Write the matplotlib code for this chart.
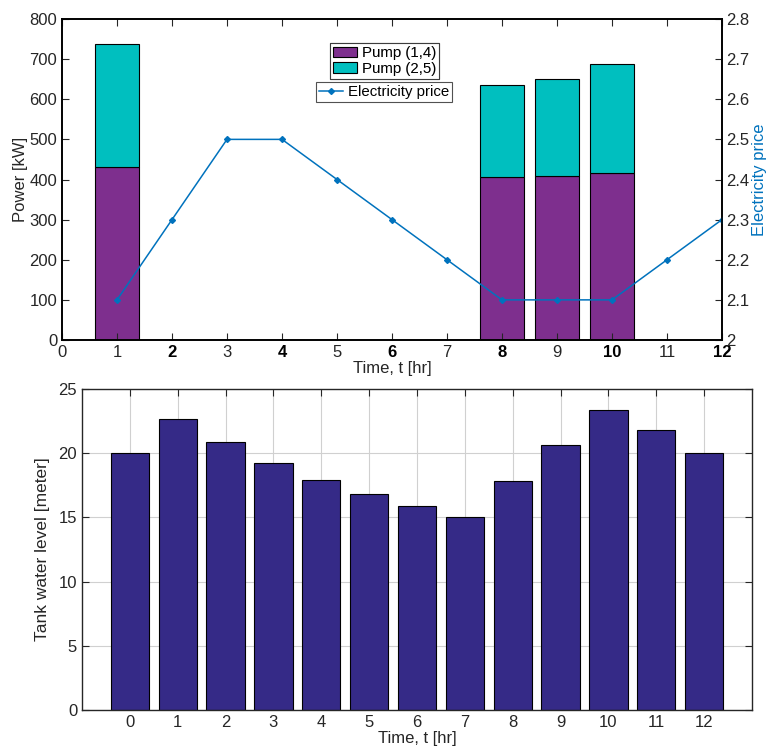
import matplotlib
matplotlib.use("Agg")
import matplotlib.pyplot as plt
import numpy as np

plt.rcParams['font.family'] = ['Liberation Sans', 'DejaVu Sans']

hours = list(range(1, 13))
pump14 = [430, 0, 0, 0, 0, 0, 0, 407, 408, 415, 0, 0]
pump25 = [308, 0, 0, 0, 0, 0, 0, 229, 243, 272, 0, 0]
price = [2.1, 2.3, 2.5, 2.5, 2.4, 2.3, 2.2, 2.1, 2.1, 2.1, 2.2, 2.3]

tank_t = list(range(0, 13))
tank_level = [20.0, 22.7, 20.9, 19.25, 17.95, 16.8, 15.9, 15.0, 17.85, 20.65, 23.4, 21.8, 20.0]

purple = '#7E2F8E'
teal = '#00BFBF'
blue = '#0072BD'
navy = '#352A87'

fig = plt.figure(figsize=(7.66, 7.49), dpi=100)
W, H = 766, 749

# top axes
ax1 = fig.add_axes([62 / W, 1 - 340 / H, (722 - 62) / W, (340 - 19) / H])
b1 = ax1.bar(hours, pump14, width=0.8, color=purple, edgecolor='black', linewidth=0.8, label='Pump (1,4)')
b2 = ax1.bar(hours, pump25, width=0.8, bottom=pump14, color=teal, edgecolor='black', linewidth=0.8, label='Pump (2,5)')
ax1.set_xlim(0, 12)
ax1.set_ylim(0, 800)
ax1.set_xticks(range(0, 13))
ax1.set_yticks(range(0, 801, 100))
ax1.set_ylabel('Power [kW]', fontsize=12, color='#262626', labelpad=1)
ax1.set_xlabel('Time, t [hr]', fontsize=12, color='#262626', labelpad=1)
ax1.tick_params(direction='in', top=True, labelsize=12, colors='#262626', length=5)
for lab, v in zip(ax1.get_xticklabels(), range(0, 13)):
    if v % 2 == 0 and v > 0:
        lab.set_fontweight('bold')
        lab.set_color('black')

ax2 = ax1.twinx()
ln, = ax2.plot(hours, price, color=blue, marker='D', markersize=3, linewidth=1.1, label='Electricity price')
ax2.set_ylim(2.0, 2.8)
ax2.set_yticks(np.arange(2.0, 2.81, 0.1))
ax2.set_yticklabels(['2', '2.1', '2.2', '2.3', '2.4', '2.5', '2.6', '2.7', '2.8'])
ax2.tick_params(direction='in', labelsize=12, colors='#262626', length=5, pad=3)
ax2.set_ylabel('Electricity price', fontsize=12, color=blue, labelpad=2)
for ax in (ax1, ax2):
    for s in ax.spines.values():
        s.set_linewidth(1.2)

leg1 = ax1.legend(handles=[b1, b2], loc='upper left', bbox_to_anchor=(268 / 660, (340 - 43) / 321),
                  fontsize=10.8, frameon=True, fancybox=False, edgecolor='#262626',
                  borderpad=0.2, labelspacing=0.1, handlelength=1.6, handletextpad=0.3,
                  borderaxespad=0)
leg1.get_frame().set_linewidth(0.8)
ax1.add_artist(leg1)
leg2 = ax2.legend(handles=[ln], loc='upper left', bbox_to_anchor=(254 / 660, (340 - 82) / 321),
                  fontsize=10.8, frameon=True, fancybox=False, edgecolor='#262626',
                  borderpad=0.2, handlelength=1.6, handletextpad=0.3, borderaxespad=0)
leg2.get_frame().set_linewidth(0.8)

# bottom axes
ax3 = fig.add_axes([82 / W, 1 - 710 / H, (752 - 82) / W, (710 - 389) / H])
ax3.bar(tank_t, tank_level, width=0.8, color=navy, edgecolor='black', linewidth=0.8, zorder=2)
ax3.set_xlim(-1, 13)
ax3.set_ylim(0, 25)
ax3.set_xticks(tank_t)
ax3.set_yticks(range(0, 26, 5))
ax3.grid(True, color='#d0d0d0', linewidth=0.8, zorder=0)
ax3.set_axisbelow(True)
ax3.tick_params(direction='in', top=True, right=True, labelsize=12, colors='#262626', length=5)
ax3.set_ylabel('Tank water level [meter]', fontsize=12.5, color='#262626', labelpad=6)
ax3.set_xlabel('Time, t [hr]', fontsize=12, color='#262626', labelpad=1)
for s in ax3.spines.values():
    s.set_linewidth(1.0)
    s.set_color('#262626')

fig.savefig('out.png', dpi=100)
